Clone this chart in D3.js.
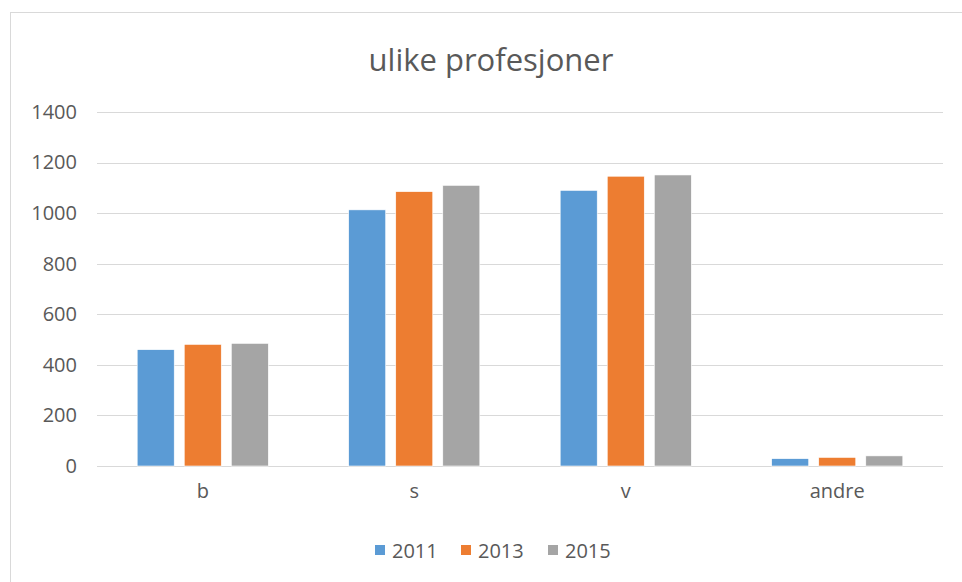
<!DOCTYPE html>
<html>
<head>
<meta charset="utf-8">
<script src="https://cdn.jsdelivr.net/npm/d3@7"></script>
<style>
  html, body { margin: 0; padding: 0; background: #fff; }
  svg { display: block; font-family: "Open Sans", "Liberation Sans", sans-serif; }
</style>
</head>
<body>
<svg id="chart" width="962" height="582"></svg>
<script>
// chart data
var categories = ["b", "s", "v", "andre"];
var seriesNames = ["2011", "2013", "2015"];
var seriesColors = ["#5b9bd5", "#ed7d31", "#a5a5a5"];
var values2011 = [460, 1013, 1090, 29];
var values2013 = [481, 1085, 1146, 34];
var values2015 = [485, 1110, 1151, 40];
var yTicks = [0, 200, 400, 600, 800, 1000, 1200, 1400];
var chartTitle = "ulike profesjoner";

var seriesValues = [values2011, values2013, values2015];

var svg = d3.select("#chart");

// outer chart frame (runs off right/bottom edges)
svg.append("rect")
    .attr("x", 10.5).attr("y", 12.5)
    .attr("width", 980).attr("height", 600)
    .attr("fill", "#fff")
    .attr("stroke", "#d9d9d9");

var plotLeft = 97, plotRight = 943;

var x0 = d3.scaleBand()
    .domain(categories)
    .range([plotLeft, plotRight])
    .paddingInner(0.38)
    .paddingOuter(0.19);

var x1 = d3.scaleBand()
    .domain(seriesNames)
    .range([0, x0.bandwidth()])
    .paddingInner(0.213);

var y = d3.scaleLinear()
    .domain([0, 1400])
    .range([466, 112]);

// gridlines
svg.append("g").selectAll("line")
    .data(yTicks)
    .enter().append("line")
    .attr("x1", plotLeft).attr("x2", plotRight)
    .attr("y1", function (d) { return Math.round(y(d)) + 0.5; })
    .attr("y2", function (d) { return Math.round(y(d)) + 0.5; })
    .attr("stroke", "#d9d9d9")
    .attr("stroke-width", 1.2);

// y axis labels
var yAxis = d3.axisLeft(y).tickValues(yTicks).tickFormat(d3.format("d")).tickSize(0).tickPadding(0);
var yg = svg.append("g")
    .attr("transform", "translate(77,0)")
    .call(yAxis);
yg.select(".domain").remove();
yg.selectAll("text")
    .attr("fill", "#595959")
    .style("font-size", "20px")
    .style("font-family", "\"Open Sans\", sans-serif");

// bars
var groups = svg.append("g").selectAll("g")
    .data(categories)
    .enter().append("g")
    .attr("transform", function (d) { return "translate(" + x0(d) + ",0)"; });

groups.selectAll("rect")
    .data(function (d, i) {
        return seriesNames.map(function (s, j) {
            return { series: s, value: seriesValues[j][i], color: seriesColors[j] };
        });
    })
    .enter().append("rect")
    .attr("x", function (d) { return x1(d.series); })
    .attr("y", function (d) { return y(d.value); })
    .attr("width", x1.bandwidth())
    .attr("height", function (d) { return y(0) - y(d.value); })
    .attr("fill", function (d) { return d.color; })
    .attr("stroke", "#fff")
    .attr("stroke-width", 0.6);

// x axis labels
var xAxis = d3.axisBottom(x0).tickSize(0).tickPadding(0);
var xg = svg.append("g")
    .attr("transform", "translate(0,484)")
    .call(xAxis);
xg.select(".domain").remove();
xg.selectAll("text")
    .attr("fill", "#595959")
    .style("font-size", "20px")
    .style("font-family", "\"Open Sans\", sans-serif");

// title
svg.append("text")
    .attr("x", 491).attr("y", 71)
    .attr("text-anchor", "middle")
    .attr("fill", "#595959")
    .style("font-size", "31px")
    .text(chartTitle);

// legend
var legendX = [375, 461, 548];
var legend = svg.append("g").selectAll("g")
    .data(seriesNames)
    .enter().append("g")
    .attr("transform", function (d, i) { return "translate(" + legendX[i] + ",545)"; });
legend.append("rect")
    .attr("width", 10).attr("height", 10)
    .attr("fill", function (d, i) { return seriesColors[i]; });
legend.append("text")
    .attr("x", 17).attr("y", 12.5)
    .attr("fill", "#595959")
    .style("font-size", "20px")
    .text(function (d) { return d; });
</script>
</body>
</html>
